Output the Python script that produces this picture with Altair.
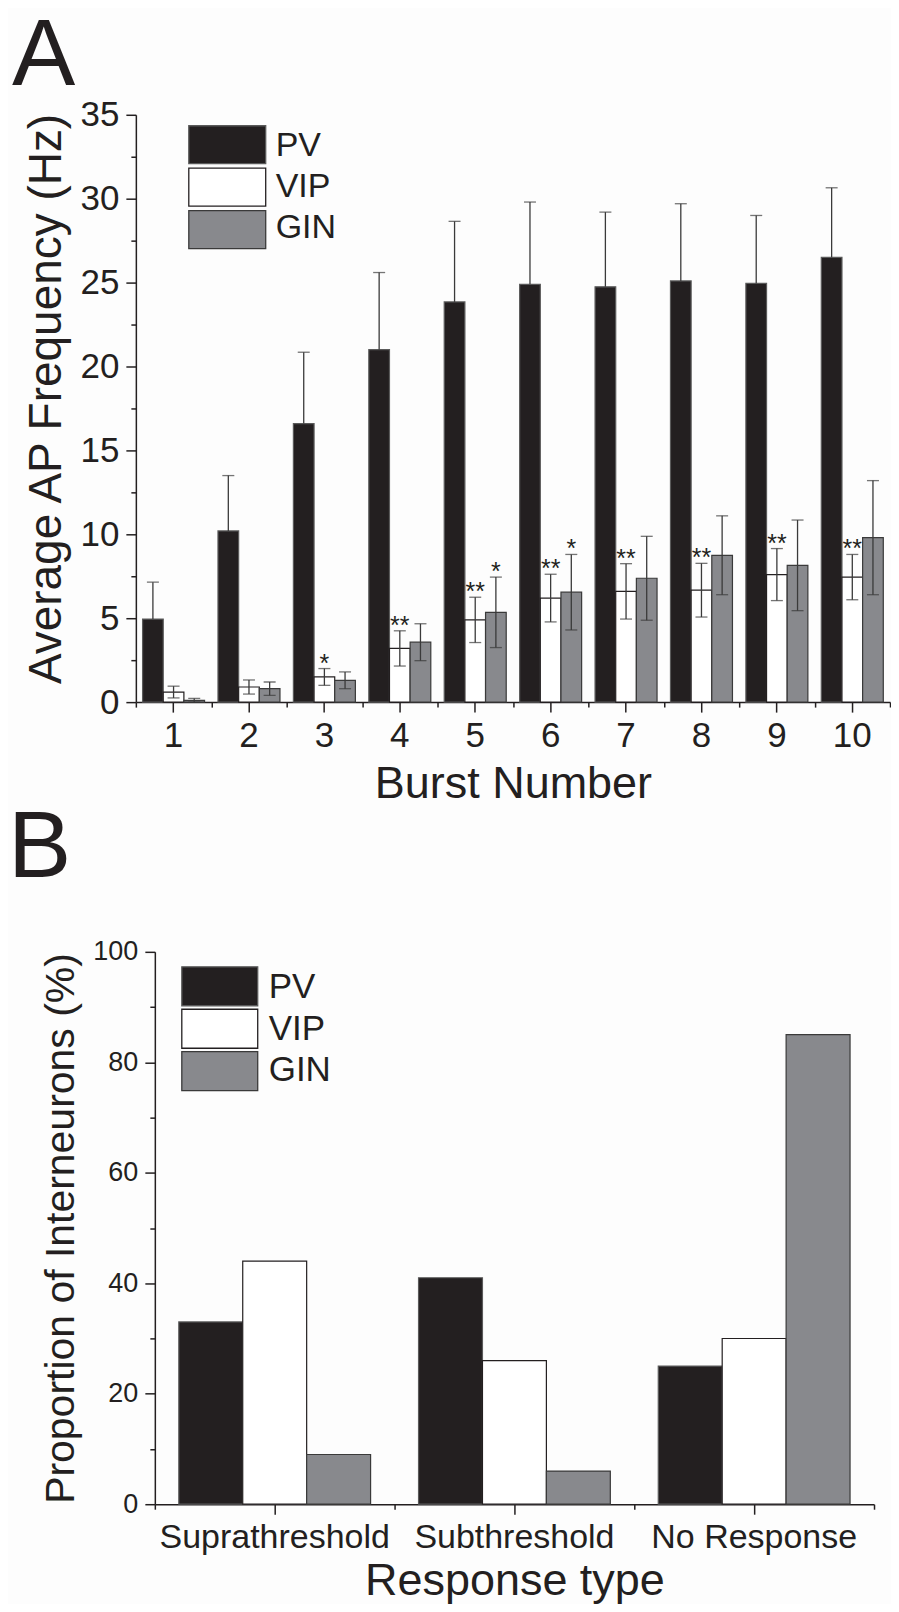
import altair as alt
import pandas as pd

# ---------------- data ----------------
bursts = ["1", "2", "3", "4", "5", "6", "7", "8", "9", "10"]
groups = ["PV", "VIP", "GIN"]

pv_mean = [4.95, 10.2, 16.6, 21.0, 23.85, 24.9, 24.75, 25.1, 24.95, 26.5]
pv_sem = [2.2, 3.3, 4.25, 4.6, 4.8, 4.9, 4.45, 4.6, 4.05, 4.15]
vip_mean = [0.6, 0.9, 1.5, 3.2, 4.9, 6.2, 6.6, 6.67, 7.6, 7.45]
vip_sem = [0.35, 0.42, 0.5, 1.05, 1.35, 1.42, 1.65, 1.6, 1.55, 1.35]
gin_mean = [0.1, 0.8, 1.3, 3.57, 5.35, 6.55, 7.38, 8.75, 8.15, 9.8]
gin_sem = [0.12, 0.4, 0.5, 1.1, 2.1, 2.25, 2.5, 2.35, 2.7, 3.4]
vip_stars = ["", "", "*", "**", "**", "**", "**", "**", "**", "**"]
gin_stars = ["", "", "", "", "*", "*", "", "", "", ""]
pv_stars = [""] * 10

response_types = ["Suprathreshold", "Subthreshold", "No Response"]
pv_pct = [33, 41, 25]
vip_pct = [44, 26, 30]
gin_pct = [9, 6, 85]

fill_colors = ["#231f20", "#ffffff", "#88898d"]
stroke_colors = ["#5a5a5a", "#231f20", "#3a3a3a"]
ink = "#231f20"
FONT = "Liberation Sans"

# ---------------- tables ----------------
rows, caps = [], []
for g, means, sems, stars in [("PV", pv_mean, pv_sem, pv_stars),
                              ("VIP", vip_mean, vip_sem, vip_stars),
                              ("GIN", gin_mean, gin_sem, gin_stars)]:
    for b, m, s, st in zip(bursts, means, sems, stars):
        lo = m if g == "PV" else max(0.0, m - s)
        hi = m + s
        rows.append(dict(burst=b, group=g, mean=m, lo=lo, hi=hi, star=st))
        caps.append(dict(burst=b, group=g, y=hi))
        if g != "PV":
            caps.append(dict(burst=b, group=g, y=lo))
dfA = pd.DataFrame(rows)
dfCaps = pd.DataFrame(caps)
dfStars = dfA[dfA["star"] != ""]

rowsB = []
for g, vals in [("PV", pv_pct), ("VIP", vip_pct), ("GIN", gin_pct)]:
    for r, v in zip(response_types, vals):
        rowsB.append(dict(resp=r, group=g, pct=v))
dfB = pd.DataFrame(rowsB)
dfLeg = pd.DataFrame({"group": groups})

fill_enc = alt.Fill("group:N", sort=groups,
                    scale=alt.Scale(domain=groups, range=fill_colors), legend=None)
stroke_enc = alt.Stroke("group:N", sort=groups,
                        scale=alt.Scale(domain=groups, range=stroke_colors), legend=None)

# ---------------- panel A ----------------
xA_scale = alt.Scale(paddingInner=0, paddingOuter=0)
offA = alt.XOffset("group:N", sort=groups, scale=alt.Scale(paddingOuter=0.325, paddingInner=0))
yA_scale = alt.Scale(domain=[0, 35], nice=False, zero=True)

barsA = alt.Chart(dfA).mark_bar(strokeWidth=1.2).encode(
    x=alt.X("burst:N", sort=bursts, scale=xA_scale,
            axis=alt.Axis(orient="bottom", labelAngle=0, tickSize=10, labelFontSize=35,
                          labelPadding=6, title="Burst Number", titleFontSize=45,
                          titlePadding=8)),
    xOffset=offA,
    y=alt.Y("mean:Q", scale=yA_scale,
            axis=alt.Axis(orient="left", values=[0, 5, 10, 15, 20, 25, 30, 35], tickSize=10,
                          labelFontSize=35, labelPadding=7,
                          title="Average AP Frequency (Hz)", titleFontSize=46,
                          titlePadding=10, titleY=284)),
    fill=fill_enc, stroke=stroke_enc,
)

rulesA = alt.Chart(dfA).mark_rule(color="#3a3a3a", strokeWidth=1.3).encode(
    x=alt.X("burst:N", sort=bursts, scale=xA_scale, title=None,
            axis=alt.Axis(orient="bottom", tickBand="extent", labels=False, domain=False,
                          tickSize=5)),
    xOffset=offA,
    y=alt.Y("lo:Q", scale=yA_scale, title=None,
            axis=alt.Axis(orient="left", values=[2.5, 7.5, 12.5, 17.5, 22.5, 27.5, 32.5],
                          tickSize=5, labels=False, domain=False)),
    y2="hi:Q",
)

capsA = alt.Chart(dfCaps).mark_tick(color="#3a3a3a", size=12, thickness=1.3).encode(
    x=alt.X("burst:N", sort=bursts, scale=xA_scale, axis=None),
    xOffset=offA,
    y=alt.Y("y:Q", scale=yA_scale, axis=None),
)

starsA = alt.Chart(dfStars).mark_text(fontSize=25, baseline="alphabetic", dy=3, color=ink,
                                      font=FONT).encode(
    x=alt.X("burst:N", sort=bursts, scale=xA_scale, axis=None),
    xOffset=offA,
    y=alt.Y("hi:Q", scale=yA_scale, axis=None),
    text="star:N",
)

innerA = alt.layer(barsA, rulesA, capsA, starsA).resolve_axis(x="independent", y="independent")

legA_rect = alt.Chart(dfLeg).mark_rect(strokeWidth=1.3).encode(
    x=alt.value(53), x2=alt.value(130),
    y=alt.Y("group:N", sort=groups,
            scale=alt.Scale(range=[11, 134], paddingInner=0.106, paddingOuter=0), axis=None),
    fill=fill_enc, stroke=stroke_enc,
)
legA_text = alt.Chart(dfLeg).mark_text(align="left", baseline="middle", fontSize=34,
                                       color=ink, font=FONT).encode(
    x=alt.value(140),
    y=alt.Y("group:N", sort=groups,
            scale=alt.Scale(range=[11, 134], paddingInner=0.106, paddingOuter=0), axis=None),
    text="group:N",
)

chartA = alt.layer(innerA, legA_rect, legA_text).resolve_scale(y="independent").properties(
    width=755, height=588,
    title=alt.Title("A", anchor="start", frame="group", fontSize=95, fontWeight="normal",
                    dx=-124, offset=-7, color=ink, font=FONT),
)

# ---------------- panel B ----------------
xB_scale = alt.Scale(range=[19, 739], paddingInner=0, paddingOuter=0)
offB = alt.XOffset("group:N", sort=groups,
                   scale=alt.Scale(range=[24, 216], paddingOuter=0, paddingInner=0))
yB_scale = alt.Scale(domain=[0, 100], nice=False)

barsB = alt.Chart(dfB).mark_bar(strokeWidth=1.2).encode(
    x=alt.X("resp:N", sort=response_types, scale=xB_scale,
            axis=alt.Axis(orient="bottom", labelAngle=0, tickSize=10, labelFontSize=34,
                          labelPadding=6, labelLimit=400, title="Response type",
                          titleFontSize=45, titlePadding=4)),
    xOffset=offB,
    y=alt.Y("pct:Q", scale=yB_scale,
            axis=alt.Axis(orient="left", values=[0, 20, 40, 60, 80, 100], tickSize=10,
                          labelFontSize=27, labelPadding=7, offset=-19,
                          title="Proportion of Interneurons (%)", titleFontSize=41,
                          titlePadding=10)),
    fill=fill_enc, stroke=stroke_enc,
)

minorB = alt.Chart(dfB).mark_bar(opacity=0).encode(
    x=alt.X("resp:N", sort=response_types, scale=xB_scale, title=None,
            axis=alt.Axis(orient="bottom", tickBand="extent", labels=False, domain=False,
                          tickSize=5)),
    xOffset=offB,
    y=alt.Y("pct:Q", scale=yB_scale, title=None,
            axis=alt.Axis(orient="left", values=[10, 30, 50, 70, 90], tickSize=5,
                          labels=False, domain=False, offset=-19)),
)

innerB = alt.layer(barsB, minorB).resolve_axis(x="independent", y="independent")

legB_rect = alt.Chart(dfLeg).mark_rect(strokeWidth=1.3).encode(
    x=alt.value(46), x2=alt.value(122),
    y=alt.Y("group:N", sort=groups,
            scale=alt.Scale(range=[15, 139], paddingInner=0.082, paddingOuter=0), axis=None),
    fill=fill_enc, stroke=stroke_enc,
)
legB_text = alt.Chart(dfLeg).mark_text(align="left", baseline="middle", fontSize=35,
                                       color=ink, font=FONT).encode(
    x=alt.value(133),
    y=alt.Y("group:N", sort=groups,
            scale=alt.Scale(range=[15, 139], paddingInner=0.082, paddingOuter=0), axis=None),
    text="group:N",
)

chartB = alt.layer(innerB, legB_rect, legB_text).resolve_scale(y="independent").properties(
    width=739, height=553,
    title=alt.Title("B", anchor="start", frame="group", fontSize=95, fontWeight="normal",
                    dx=-128, offset=41, color=ink, font=FONT),
)

chart = alt.vconcat(chartA, chartB, spacing=-5).resolve_scale(
    xOffset="independent"
).properties(
    padding={"left": 0, "top": 0, "right": 0, "bottom": 0}
).configure(
    background="#fdfdfd", font=FONT
).configure_view(
    stroke=None
).configure_axis(
    grid=False, domainColor=ink, domainWidth=1.5, tickColor=ink, tickWidth=1.5,
    labelColor=ink, titleColor=ink, labelFont=FONT, titleFont=FONT,
    titleFontWeight="normal",
)

chart.save("out.html", embed_options={"renderer": "svg", "actions": False})
